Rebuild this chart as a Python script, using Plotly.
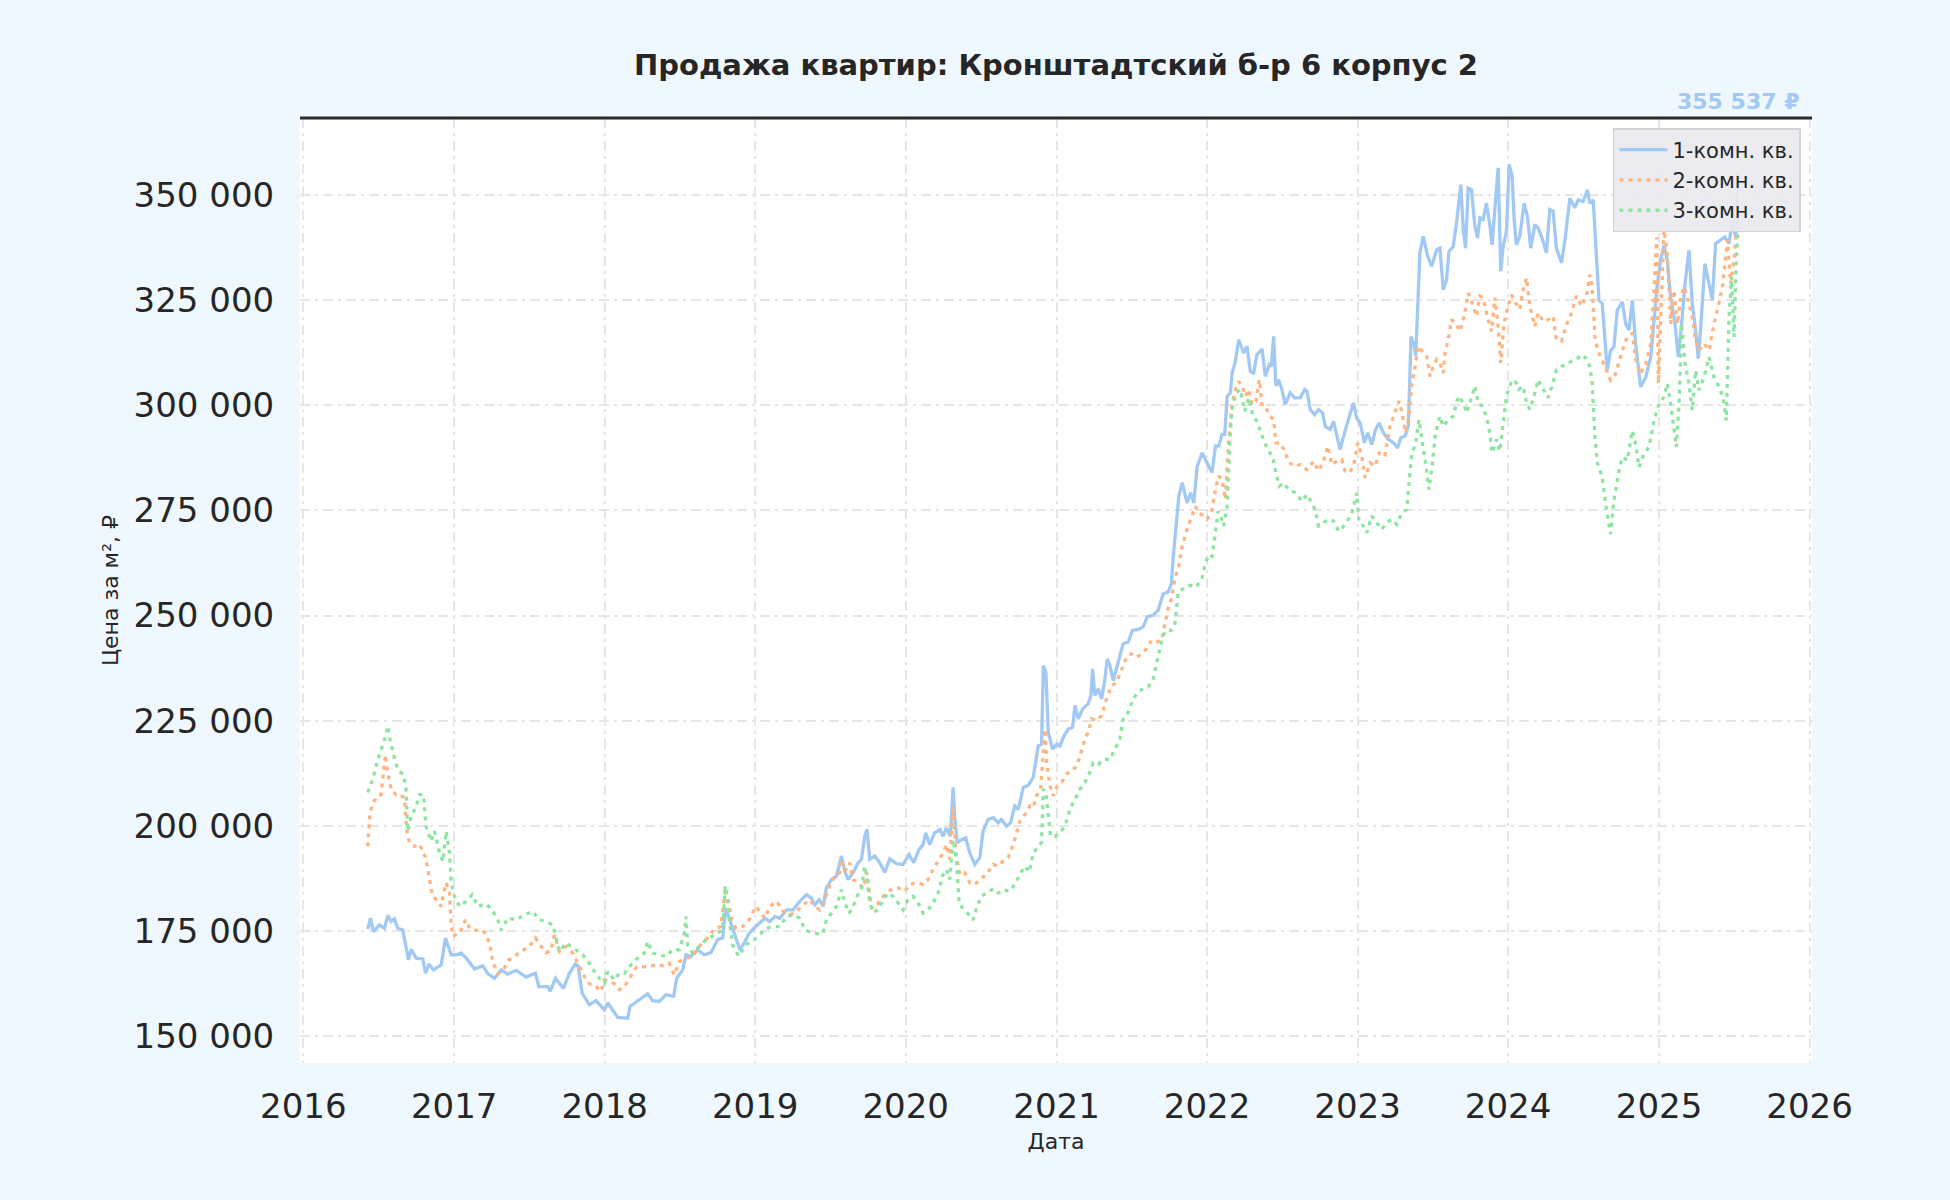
import pandas as pd
import plotly.graph_objects as go

TITLE = "Продажа квартир: Кронштадтский б-р 6 корпус 2"
SERIES_NAMES = ["1-комн. кв.", "2-комн. кв.", "3-комн. кв."]
LAST_LABEL = "355 537 ₽"

# dates are decimal years, prices are thousands of rubles per m2
one_room_years = [
    2016.427, 2016.445, 2016.465, 2016.504, 2016.538, 2016.560, 2016.582, 2016.604, 2016.626, 2016.659,
    2016.697, 2016.715, 2016.748, 2016.792, 2016.810, 2016.832, 2016.863, 2016.914, 2016.942, 2016.980,
    2017.013, 2017.046, 2017.080, 2017.135, 2017.190, 2017.223, 2017.268, 2017.312, 2017.356, 2017.412,
    2017.478, 2017.540, 2017.562, 2017.622, 2017.637, 2017.673, 2017.726, 2017.765, 2017.805, 2017.823,
    2017.850, 2017.898, 2017.942, 2017.998, 2018.020, 2018.086, 2018.153, 2018.168, 2018.230, 2018.285,
    2018.319, 2018.363, 2018.407, 2018.458, 2018.478, 2018.518, 2018.540, 2018.573, 2018.617, 2018.661,
    2018.706, 2018.750, 2018.783, 2018.805, 2018.827, 2018.861, 2018.898, 2018.927, 2018.960, 2019.000,
    2019.064, 2019.097, 2019.131, 2019.164, 2019.208, 2019.252, 2019.296, 2019.341, 2019.374, 2019.396,
    2019.425, 2019.451, 2019.473, 2019.507, 2019.540, 2019.573, 2019.595, 2019.617, 2019.650, 2019.684,
    2019.706, 2019.728, 2019.743, 2019.761, 2019.794, 2019.827, 2019.861, 2019.894, 2019.938, 2019.982,
    2020.022, 2020.053, 2020.088, 2020.115, 2020.133, 2020.159, 2020.192, 2020.226, 2020.248, 2020.270,
    2020.296, 2020.314, 2020.325, 2020.341, 2020.369, 2020.398, 2020.425, 2020.458, 2020.491, 2020.513,
    2020.546, 2020.580, 2020.613, 2020.635, 2020.668, 2020.695, 2020.723, 2020.746, 2020.779, 2020.812,
    2020.845, 2020.878, 2020.900, 2020.912, 2020.929, 2020.945, 2020.973, 2021.000, 2021.022, 2021.049,
    2021.077, 2021.106, 2021.122, 2021.144, 2021.173, 2021.210, 2021.228, 2021.239, 2021.254, 2021.277,
    2021.299, 2021.321, 2021.336, 2021.354, 2021.376, 2021.409, 2021.442, 2021.476, 2021.504, 2021.542,
    2021.575, 2021.602, 2021.642, 2021.675, 2021.708, 2021.741, 2021.763, 2021.774,
    2021.812, 2021.834, 2021.852, 2021.867, 2021.890, 2021.912, 2021.934, 2021.967, 2022.000, 2022.033,
    2022.055, 2022.077, 2022.099, 2022.117, 2022.133, 2022.155, 2022.166, 2022.188, 2022.210, 2022.243,
    2022.265, 2022.287, 2022.309, 2022.331, 2022.365, 2022.387, 2022.413, 2022.427, 2022.442, 2022.457,
    2022.475, 2022.497, 2022.519, 2022.552, 2022.581, 2022.619, 2022.648, 2022.663, 2022.685, 2022.714,
    2022.740, 2022.767, 2022.785, 2022.818, 2022.840, 2022.862, 2022.884, 2022.913, 2022.944, 2022.972,
    2022.994, 2023.017, 2023.045, 2023.067, 2023.094, 2023.120, 2023.143, 2023.171, 2023.204, 2023.238,
    2023.266, 2023.288, 2023.315, 2023.337, 2023.355, 2023.377, 2023.386, 2023.403, 2023.414, 2023.436,
    2023.465, 2023.492, 2023.525, 2023.547, 2023.569, 2023.591, 2023.607, 2023.635, 2023.657, 2023.686,
    2023.702, 2023.717, 2023.735, 2023.757, 2023.779, 2023.797, 2023.812, 2023.834, 2023.856, 2023.878,
    2023.894, 2023.912, 2023.934, 2023.951, 2023.967, 2023.989, 2024.007, 2024.027, 2024.040, 2024.055,
    2024.077, 2024.106, 2024.128, 2024.150, 2024.177, 2024.199, 2024.225, 2024.254, 2024.276, 2024.298,
    2024.320, 2024.354, 2024.380, 2024.409, 2024.442, 2024.464, 2024.497, 2024.526, 2024.541, 2024.564,
    2024.602, 2024.624, 2024.657, 2024.679, 2024.701, 2024.723, 2024.757, 2024.779, 2024.801, 2024.823,
    2024.845, 2024.878, 2024.912, 2024.945, 2024.967, 2024.989, 2025.011, 2025.033, 2025.055, 2025.077,
    2025.106, 2025.128, 2025.150, 2025.173, 2025.199, 2025.221, 2025.243, 2025.261, 2025.277, 2025.305,
    2025.332, 2025.354, 2025.376, 2025.409, 2025.438, 2025.465, 2025.487, 2025.509, 2025.527,
]
one_room_prices = [
    175.4, 178.0, 174.8, 176.4, 175.6, 178.7, 177.2, 177.8, 175.6, 175.2,
    168.1, 170.6, 168.5, 168.3, 164.9, 167.1, 165.7, 166.9, 173.3, 169.3,
    169.3, 169.7, 168.5, 165.9, 166.7, 164.8, 163.7, 165.7, 164.7, 165.6,
    164.0, 164.9, 161.7, 161.7, 160.6, 163.7, 161.3, 164.9, 167.1, 166.7,
    160.2, 157.4, 158.4, 156.2, 157.9, 154.4, 154.2, 157.0, 158.6, 160.0,
    158.4, 158.2, 159.8, 159.4, 163.7, 165.7, 169.3, 168.9, 170.5, 169.3,
    169.8, 172.9, 173.3, 180.4, 178.0, 174.4, 170.5, 172.1, 174.4, 175.9,
    178.0, 177.2, 178.4, 178.0, 180.0, 180.0, 182.0, 183.6, 182.8, 181.2,
    182.4, 180.8, 185.2, 187.2, 188.0, 192.8, 189.2, 187.2, 188.8, 191.2,
    192.0, 197.5, 199.1, 192.0, 192.8, 191.2, 188.9, 192.1, 191.0, 190.8,
    193.1, 191.2, 194.3, 195.5, 198.3, 195.5, 198.3, 199.1, 197.5, 199.5,
    197.5, 209.1, 202.3, 195.9, 196.7, 197.1, 193.5, 190.8, 192.4, 198.7,
    201.5, 201.9, 200.7, 201.5, 199.9, 200.7, 204.7, 203.9, 209.1, 209.6,
    211.5, 219.0, 219.4, 238.1, 236.5, 222.2, 218.2, 219.4, 219.0, 221.4,
    223.0, 223.4, 228.6, 225.4, 227.8, 229.0, 231.0, 237.3, 231.0, 232.6,
    230.2, 234.9, 239.7, 238.1, 234.5, 238.9, 243.3, 243.7, 246.5, 246.7,
    247.3, 249.7, 250.1, 251.3, 255.2, 255.6, 257.6, 263.6,
    278.4, 281.6, 279.2, 276.8, 279.2, 276.8, 285.5, 288.7, 286.3, 284.0,
    290.3, 290.3, 293.1, 293.1, 302.2, 303.0, 307.7, 310.5, 315.6, 312.5,
    314.1, 308.1, 307.7, 312.1, 313.4, 306.9, 309.7, 309.3, 316.4, 304.6,
    306.1, 303.8, 300.2, 303.0, 301.8, 301.8, 303.8, 303.4, 299.0, 297.8,
    299.0, 298.2, 295.0, 294.3, 296.2, 292.7, 289.5, 293.5, 297.4, 300.6,
    297.0, 295.8, 291.1, 293.5, 290.7, 294.3, 295.8, 293.5, 291.9, 291.1,
    289.9, 292.3, 292.7, 295.0, 316.4, 314.1, 311.7, 329.1, 336.3, 340.2,
    335.5, 333.1, 337.0, 337.4, 327.5, 329.9, 336.6, 337.8, 343.4, 352.5,
    341.8, 337.4, 351.7, 351.3, 342.6, 339.8, 344.6, 344.2, 348.1, 343.0,
    338.2, 347.0, 356.5, 331.9, 337.8, 341.4, 357.3, 354.5, 344.2, 338.2,
    340.2, 348.1, 345.0, 337.4, 343.0, 342.2, 339.8, 336.3, 346.6, 346.2,
    337.4, 333.9, 340.2, 349.3, 347.0, 348.9, 348.5, 351.3, 348.1, 348.9,
    325.0, 324.2, 308.3, 313.1, 313.9, 322.6, 324.6, 319.4, 317.9, 325.0,
    314.7, 304.4, 306.7, 311.5, 319.4, 329.0, 334.5, 338.1, 334.5, 325.8,
    319.4, 311.5, 319.4, 329.0, 336.9, 324.2, 317.9, 311.1, 318.7, 333.7,
    329.0, 325.0, 338.5, 339.3, 340.1, 338.5, 344.1, 340.1, 355.537,
]

two_room_years = [
    2016.427, 2016.431, 2016.442, 2016.460, 2016.493, 2016.515, 2016.531, 2016.544, 2016.553, 2016.566,
    2016.582, 2016.615, 2016.637, 2016.670, 2016.686, 2016.704, 2016.737, 2016.765, 2016.796, 2016.814,
    2016.825, 2016.841, 2016.854, 2016.881, 2016.914, 2016.929, 2016.947, 2016.969, 2016.980, 2016.991,
    2017.035, 2017.075, 2017.102, 2017.146, 2017.190, 2017.217, 2017.239, 2017.257, 2017.290, 2017.323,
    2017.356, 2017.400, 2017.445, 2017.500, 2017.540, 2017.577, 2017.611, 2017.644, 2017.666, 2017.699,
    2017.743, 2017.788, 2017.832, 2017.865, 2017.898, 2017.931, 2017.976, 2017.998, 2018.042, 2018.075,
    2018.097, 2018.131, 2018.175, 2018.212, 2018.252, 2018.296, 2018.341, 2018.385, 2018.429, 2018.462,
    2018.496, 2018.540, 2018.584, 2018.628, 2018.673, 2018.728, 2018.772, 2018.801, 2018.816, 2018.845,
    2018.872, 2018.916, 2018.960, 2019.004,
    2019.064, 2019.097, 2019.142, 2019.186, 2019.230, 2019.274, 2019.319, 2019.363, 2019.396, 2019.429,
    2019.462, 2019.496, 2019.529, 2019.562, 2019.573, 2019.595, 2019.628, 2019.650, 2019.684, 2019.717,
    2019.743, 2019.772, 2019.805, 2019.838, 2019.872, 2019.905, 2019.949, 2019.993, 2020.027, 2020.071,
    2020.115, 2020.148, 2020.181, 2020.215, 2020.248, 2020.270, 2020.292, 2020.314, 2020.332, 2020.358,
    2020.392, 2020.425, 2020.458, 2020.491, 2020.535, 2020.580, 2020.613, 2020.646, 2020.679, 2020.712,
    2020.735, 2020.757, 2020.790, 2020.823, 2020.845, 2020.867, 2020.894, 2020.912, 2020.923, 2020.934,
    2020.956, 2020.978, 2021.004, 2021.033, 2021.066, 2021.100, 2021.133, 2021.155, 2021.188, 2021.210,
    2021.232, 2021.265, 2021.299, 2021.332, 2021.365, 2021.398, 2021.431, 2021.465, 2021.498, 2021.531,
    2021.564, 2021.597, 2021.631, 2021.664, 2021.697, 2021.719, 2021.741, 2021.763, 2021.785, 2021.808,
    2021.834, 2021.867, 2021.901, 2021.923, 2021.945, 2021.978, 2022.000, 2022.033, 2022.055, 2022.077,
    2022.099, 2022.122, 2022.139, 2022.155, 2022.166, 2022.188, 2022.210, 2022.232, 2022.254, 2022.276,
    2022.298, 2022.325, 2022.347, 2022.365, 2022.391, 2022.420, 2022.442, 2022.457, 2022.486, 2022.515,
    2022.541, 2022.575, 2022.619, 2022.663, 2022.707, 2022.740, 2022.773, 2022.802, 2022.829, 2022.862,
    2022.895, 2022.917, 2022.950, 2022.979, 2023.001, 2023.028, 2023.050, 2023.083, 2023.116, 2023.149,
    2023.182, 2023.215, 2023.249, 2023.275, 2023.293, 2023.319, 2023.341, 2023.359, 2023.386, 2023.403,
    2023.436, 2023.459, 2023.481, 2023.503, 2023.525, 2023.547, 2023.569, 2023.580, 2023.602, 2023.624,
    2023.651, 2023.680, 2023.708, 2023.735, 2023.761, 2023.790, 2023.812, 2023.834, 2023.867, 2023.890,
    2023.912, 2023.934, 2023.951, 2023.973, 2024.000, 2024.022, 2024.049, 2024.077, 2024.099, 2024.122,
    2024.144, 2024.177, 2024.199, 2024.232, 2024.265, 2024.298, 2024.320, 2024.354, 2024.387, 2024.420,
    2024.453, 2024.486, 2024.519, 2024.541, 2024.557, 2024.575, 2024.592,
    2024.635, 2024.679, 2024.712, 2024.757, 2024.790, 2024.823, 2024.850, 2024.878, 2024.912, 2024.945,
    2024.967, 2024.985, 2024.996, 2025.018, 2025.033, 2025.055, 2025.077, 2025.100, 2025.122, 2025.144,
    2025.166, 2025.188, 2025.221, 2025.243, 2025.265, 2025.299, 2025.332, 2025.365, 2025.398, 2025.425,
    2025.454, 2025.476, 2025.498, 2025.520,
]
two_room_prices = [
    195.1, 198.3, 203.0, 205.4, 207.0, 207.4, 211.8, 216.9, 214.1, 211.4,
    208.6, 207.4, 207.6, 206.6, 198.7, 195.9, 195.1, 195.7, 193.9, 191.9,
    189.4, 186.7, 183.6, 182.4, 180.8, 184.0, 186.4, 184.0, 176.4, 173.7,
    174.4, 177.6, 175.6, 175.1, 175.1, 173.7, 171.3, 167.5, 164.9, 165.3,
    167.9, 168.9, 170.1, 171.3, 173.3, 171.3, 169.8, 170.3, 174.0, 170.1,
    171.3, 169.7, 166.5, 164.1, 162.4, 162.1, 160.6, 163.3, 162.9, 162.1,
    161.0, 161.7, 164.3, 166.4, 166.4, 166.5, 166.9, 166.7, 167.3, 164.5,
    167.7, 168.5, 168.9, 171.3, 172.9, 175.4, 176.0, 185.2, 183.2, 177.6,
    175.6, 176.0, 177.6, 180.8,
    178.0, 180.8, 182.0, 179.6, 178.8, 179.6, 181.2, 182.4, 180.8, 180.0,
    182.4, 186.0, 188.0, 188.8, 192.0, 189.2, 191.2, 187.2, 186.4, 185.2,
    188.8, 180.4, 180.8, 182.8, 184.0, 184.8, 185.2, 184.4, 186.0, 186.5,
    186.0, 187.2, 189.6, 191.6, 193.5, 195.5, 192.0, 204.3, 193.5, 188.4,
    188.8, 186.4, 186.0, 187.2, 188.4, 190.8, 190.4, 191.6, 192.4, 195.5,
    198.7, 201.1, 202.7, 204.7, 204.3, 207.1, 208.7, 216.6, 223.0, 215.0,
    209.5, 207.1, 209.5, 210.3, 212.3, 213.0, 214.2, 216.6, 220.6, 222.2,
    225.4, 225.0, 226.2, 230.2, 233.3, 234.1, 237.3, 240.1, 240.9, 240.1,
    240.9, 242.1, 244.1, 243.7, 244.1, 247.7, 251.7, 254.0, 258.8, 261.2,
    266.5, 270.5, 273.7, 276.0, 274.4, 273.7, 272.9, 275.2, 280.0, 283.2,
    282.4, 277.6, 289.5, 297.4, 300.6, 303.8, 305.7, 304.6, 302.2, 303.8,
    300.2, 301.0, 306.1, 299.8, 299.4, 297.4, 296.6, 291.1, 291.1, 289.1,
    286.7, 285.5, 285.9, 284.7, 286.7, 284.4, 286.7, 290.3, 285.9, 286.7,
    287.1, 284.4, 284.0, 286.7, 291.1, 287.9, 282.8, 286.3, 285.5, 289.1,
    288.3, 295.0, 298.2, 301.0, 298.6, 293.5, 297.4, 304.6, 310.1, 314.1,
    312.5, 311.7, 306.9, 309.3, 310.9, 310.1, 307.7, 312.5, 315.6, 320.4,
    319.6, 317.6, 321.2, 326.7, 324.4, 321.2, 326.0, 325.6, 320.4, 317.6,
    325.6, 318.8, 310.1, 319.6, 323.6, 326.3, 324.4, 322.8, 327.5, 330.3,
    323.6, 318.8, 322.0, 320.0, 320.4, 321.2, 315.6, 315.3, 319.2, 322.0,
    326.0, 323.6, 326.0, 331.1, 328.3, 316.4, 313.3,
    309.9, 306.0, 307.5, 313.1, 316.3, 317.1, 309.9, 307.5, 309.9, 314.7,
    327.4, 340.0, 305.2, 329.0, 341.7, 336.1, 319.4, 327.4, 319.4, 325.8,
    328.2, 325.8, 321.0, 315.5, 313.1, 314.7, 313.1, 319.4, 324.2, 329.0,
    339.3, 329.0, 334.5, 344.1,
]

three_room_years = [
    2016.427, 2016.460, 2016.493, 2016.527, 2016.549, 2016.560, 2016.575, 2016.604, 2016.626, 2016.664,
    2016.681, 2016.692, 2016.715, 2016.748, 2016.770, 2016.796, 2016.814, 2016.847, 2016.869, 2016.903,
    2016.925, 2016.947, 2016.969, 2016.980, 2017.002, 2017.035, 2017.080, 2017.119, 2017.157, 2017.212,
    2017.252, 2017.290, 2017.312, 2017.356, 2017.412, 2017.467, 2017.522, 2017.566, 2017.611, 2017.655,
    2017.677, 2017.699, 2017.743, 2017.777, 2017.810, 2017.854, 2017.898, 2017.931, 2017.965, 2017.998,
    2018.020, 2018.064, 2018.097, 2018.131, 2018.175, 2018.219, 2018.263, 2018.285, 2018.319, 2018.363,
    2018.407, 2018.451, 2018.496, 2018.529, 2018.540, 2018.551, 2018.584, 2018.628, 2018.673, 2018.728,
    2018.783, 2018.801, 2018.816, 2018.850, 2018.889, 2018.938, 2018.993,
    2019.075, 2019.119, 2019.164, 2019.208, 2019.252, 2019.296, 2019.330, 2019.374, 2019.418, 2019.451,
    2019.473, 2019.507, 2019.540, 2019.573, 2019.595, 2019.624, 2019.650, 2019.677, 2019.706, 2019.728,
    2019.743, 2019.761, 2019.783, 2019.816, 2019.850, 2019.883, 2019.916, 2019.949, 2019.982, 2020.015,
    2020.049, 2020.082, 2020.115, 2020.148, 2020.181, 2020.215, 2020.243, 2020.270, 2020.292, 2020.314,
    2020.336, 2020.354, 2020.385, 2020.420, 2020.447, 2020.473, 2020.502, 2020.535, 2020.580, 2020.613,
    2020.646, 2020.686, 2020.723, 2020.757, 2020.790, 2020.819, 2020.845, 2020.878, 2020.900, 2020.912,
    2020.929, 2020.945, 2020.960, 2020.989, 2021.022, 2021.055, 2021.088, 2021.122, 2021.155, 2021.188,
    2021.221, 2021.243, 2021.277, 2021.310, 2021.354, 2021.387, 2021.420, 2021.442, 2021.476, 2021.509,
    2021.542, 2021.575, 2021.608, 2021.642, 2021.664, 2021.686, 2021.708, 2021.730, 2021.763, 2021.785,
    2021.808, 2021.841, 2021.885, 2021.929,
    2021.967, 2021.989, 2022.011, 2022.033, 2022.055, 2022.073, 2022.088, 2022.110, 2022.133, 2022.144,
    2022.155, 2022.170, 2022.192, 2022.221, 2022.250, 2022.276, 2022.303, 2022.331, 2022.354, 2022.382,
    2022.409, 2022.435, 2022.457, 2022.480, 2022.508, 2022.541, 2022.586, 2022.630, 2022.663, 2022.692,
    2022.718, 2022.740, 2022.773, 2022.807, 2022.840, 2022.873, 2022.899, 2022.928, 2022.957, 2022.983,
    2022.994, 2023.010, 2023.039, 2023.061, 2023.094, 2023.127, 2023.160, 2023.193, 2023.227, 2023.260,
    2023.293, 2023.326, 2023.341, 2023.359, 2023.386, 2023.408, 2023.430, 2023.452, 2023.474, 2023.496,
    2023.518, 2023.547, 2023.569, 2023.602, 2023.635, 2023.669, 2023.702, 2023.724, 2023.757, 2023.779,
    2023.801, 2023.828, 2023.856, 2023.878, 2023.894, 2023.923, 2023.945, 2023.967, 2023.989, 2024.018,
    2024.044, 2024.071, 2024.099, 2024.122, 2024.144, 2024.172, 2024.199, 2024.232, 2024.265, 2024.298,
    2024.320, 2024.354, 2024.387, 2024.420, 2024.453, 2024.486, 2024.513, 2024.541, 2024.557, 2024.575,
    2024.592,
    2024.624, 2024.646, 2024.679, 2024.701, 2024.735, 2024.757, 2024.790, 2024.823, 2024.845, 2024.867,
    2024.900, 2024.934, 2024.967, 2025.000, 2025.033, 2025.055, 2025.077, 2025.100, 2025.115, 2025.133,
    2025.150, 2025.173, 2025.199, 2025.221, 2025.243, 2025.265, 2025.299, 2025.332, 2025.365, 2025.398,
    2025.425, 2025.447, 2025.465, 2025.482, 2025.498, 2025.513, 2025.527,
]
three_room_prices = [
    207.9, 211.0, 215.7, 219.7, 221.7, 223.7, 220.5, 216.1, 213.3, 212.1,
    208.6, 198.7, 202.2, 204.6, 207.4, 207.4, 199.8, 196.3, 198.7, 193.5,
    191.5, 198.7, 193.5, 186.4, 183.2, 180.8, 182.0, 183.6, 180.8, 181.4,
    180.0, 177.6, 175.2, 178.0, 177.6, 178.8, 179.6, 177.6, 177.2, 176.4,
    172.9, 170.1, 172.1, 171.3, 170.5, 169.3, 167.3, 165.3, 163.7, 162.5,
    165.3, 163.3, 164.9, 164.9, 166.9, 168.5, 169.7, 172.5, 169.7, 169.3,
    168.9, 170.5, 170.5, 174.4, 178.4, 171.7, 169.7, 171.3, 172.9, 174.0,
    175.2, 185.7, 180.8, 171.7, 169.0, 171.7, 172.9,
    175.6, 176.0, 176.0, 178.4, 178.8, 178.0, 175.2, 174.6, 174.3, 174.4,
    177.6, 179.2, 180.8, 184.8, 181.6, 179.2, 180.8, 183.2, 185.2, 190.4,
    187.2, 181.6, 179.4, 180.0, 182.4, 184.0, 183.2, 181.6, 180.0, 182.4,
    183.2, 181.6, 179.2, 180.0, 181.6, 184.0, 188.0, 189.6, 187.2, 196.7,
    192.0, 181.6, 180.0, 178.8, 177.6, 180.8, 183.2, 184.0, 185.0, 184.0,
    184.8, 184.4, 186.0, 188.4, 190.4, 189.0, 193.5, 195.1, 196.0, 208.7,
    207.9, 202.3, 197.5, 197.5, 198.3, 199.9, 203.9, 206.3, 208.7, 210.3,
    212.7, 215.0, 214.6, 215.8, 215.8, 218.2, 220.6, 225.4, 227.0, 230.2,
    231.8, 232.6, 233.0, 235.0, 238.9, 242.1, 245.3, 246.5, 246.5, 247.7,
    255.6, 256.4, 257.2, 256.8,
    259.0, 262.6, 264.5, 264.1, 269.7, 274.8, 274.0, 271.3, 276.0, 284.7,
    294.3, 299.8, 303.0, 303.8, 298.6, 301.8, 297.8, 296.2, 293.9, 291.1,
    289.1, 287.9, 284.0, 280.8, 281.6, 280.0, 279.2, 277.2, 278.8, 276.8,
    275.2, 271.3, 272.1, 272.9, 272.5, 270.1, 270.9, 272.5, 273.7, 277.6,
    279.2, 272.1, 271.3, 269.7, 273.7, 272.1, 270.5, 272.1, 272.9, 271.7,
    274.4, 275.2, 281.6, 288.3, 291.1, 296.6, 291.1, 286.3, 280.0, 285.9,
    293.5, 297.4, 295.0, 296.6, 297.4, 302.2, 300.6, 298.2, 301.8, 304.6,
    300.6, 299.8, 297.4, 293.5, 288.7, 291.9, 289.1, 295.0, 302.2, 305.3,
    306.1, 303.8, 304.6, 300.6, 299.0, 302.2, 306.1, 303.8, 301.8, 305.3,
    308.5, 309.3, 309.7, 310.5, 310.9, 312.1, 311.3, 309.3, 305.3, 292.7,
    286.3,
    282.9, 276.6, 269.4, 277.4, 284.5, 287.7, 286.9, 294.0, 290.9, 285.3,
    288.5, 290.1, 296.4, 300.4, 302.0, 305.2, 300.4, 294.0, 290.1, 300.4,
    319.4, 309.9, 305.2, 298.8, 308.3, 303.6, 306.7, 311.5, 306.7, 304.4,
    302.0, 296.4, 321.0, 330.6, 316.3, 334.5, 342.5,
]

COLORS = ["#a1c9f4", "#ffb482", "#8de5a1"]
DASHES = ["solid", "4px,5px", "4px,5px"]
FONT = "DejaVu Sans"
TEXT_COLOR = "#262626"


def to_dates(years):
    out = []
    for y in years:
        yr = int(y)
        start = pd.Timestamp(yr, 1, 1)
        end = pd.Timestamp(yr + 1, 1, 1)
        out.append(start + (end - start) * (y - yr))
    return out


series = [
    (one_room_years, one_room_prices),
    (two_room_years, two_room_prices),
    (three_room_years, three_room_prices),
]

fig = go.Figure()
for (years, prices), name, color, dash in zip(series, SERIES_NAMES, COLORS, DASHES):
    fig.add_trace(
        go.Scatter(
            x=to_dates(years),
            y=[p * 1000 for p in prices],
            name=name,
            mode="lines",
            line=dict(color=color, width=3.3, dash=dash),
        )
    )

# label of the last 1-room value, sitting just above the top border
fig.add_annotation(
    x=to_dates(one_room_years)[-1],
    y=1,
    yref="paper",
    yanchor="bottom",
    yshift=2,
    text=LAST_LABEL,
    showarrow=False,
    font=dict(family=FONT, size=22, color=COLORS[0], weight="bold"),
)

# thick dark line along the top of the plot area
fig.add_shape(
    type="line",
    xref="paper",
    yref="paper",
    x0=0,
    x1=1,
    y0=1,
    y1=1,
    line=dict(color="#2b2b2b", width=3),
    layer="above",
)

fig.update_layout(
    width=1950,
    height=1200,
    paper_bgcolor="#f0f8ff",
    plot_bgcolor="white",
    separators=". ",
    font=dict(family=FONT, color=TEXT_COLOR),
    margin=dict(l=300, r=138, t=118, b=137),
    title=dict(
        text=TITLE,
        x=0.5,
        xref="paper",
        y=1 - 65 / 1200,
        yref="container",
        yanchor="middle",
        font=dict(family=FONT, size=29, color=TEXT_COLOR, weight="bold"),
    ),
    legend=dict(
        x=0.9927,
        y=0.9894,
        xanchor="right",
        yanchor="top",
        bgcolor="rgba(233,233,239,0.93)",
        bordercolor="#d2d2d8",
        borderwidth=1.5,
        font=dict(family=FONT, size=21, color=TEXT_COLOR),
        itemwidth=48,
        tracegroupgap=0,
    ),
)

grid_dash = "10px,5px,3px,5px"
fig.update_xaxes(
    type="date",
    range=["2015-12-24", "2026-01-07"],
    dtick="M12",
    tick0="2016-01-01",
    tickformat="%Y",
    showgrid=True,
    gridcolor="#e6e6e6",
    gridwidth=2,
    griddash=grid_dash,
    zeroline=False,
    showline=False,
    ticks="outside",
    ticklen=13,
    tickcolor="rgba(0,0,0,0)",
    tickfont=dict(family=FONT, size=34, color=TEXT_COLOR),
    title=dict(text="Дата", font=dict(family=FONT, size=22, color=TEXT_COLOR), standoff=8),
)
fig.update_yaxes(
    range=[143553, 368366],
    tick0=0,
    dtick=25000,
    tickformat=",.0f",
    showgrid=True,
    gridcolor="#e6e6e6",
    gridwidth=2,
    griddash=grid_dash,
    zeroline=False,
    showline=False,
    ticks="outside",
    ticklen=18,
    tickcolor="rgba(0,0,0,0)",
    tickfont=dict(family=FONT, size=34, color=TEXT_COLOR),
    title=dict(text="Цена за м², ₽", font=dict(family=FONT, size=22, color=TEXT_COLOR), standoff=8),
)

# drop the default page margin so the figure fills the window like the reference
fig.write_html(
    "out.html",
    config={"displayModeBar": False},
    post_script="document.body.style.margin='0';document.body.style.background='#f0f8ff';",
)
